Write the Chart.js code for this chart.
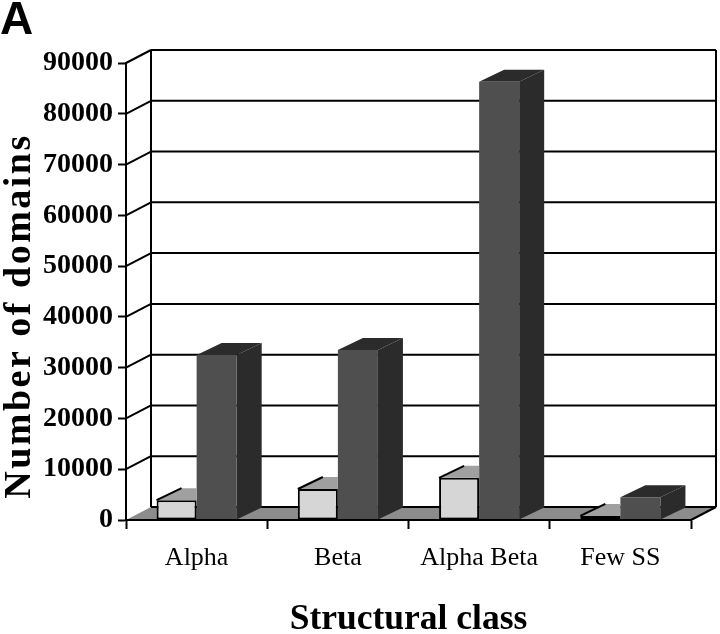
<!DOCTYPE html>
<html>
<head>
<meta charset="utf-8">
<title>Structural class</title>
<script src="https://cdn.jsdelivr.net/npm/chart.js@4"></script>
<style>
    html, body { margin: 0; padding: 0; background: #fff; }
    canvas { display: block; }
</style>
</head>
<body>
<canvas id="domains" width="720" height="634"></canvas>
<script>
// values
const categories = ['Alpha', 'Beta', 'Alpha Beta', 'Few SS'];
const lightValues = [3900, 6100, 8300, 800];
const darkValues = [32500, 33500, 86300, 4500];
const yMax = 90000;
const yStep = 10000;
const panelLabel = 'A';
const xTitle = 'Structural class';
const yTitle = 'Number of domains';

const DEPTH_X = 25;
const DEPTH_Y = 13;
const BAR_DEPTH_Y = 12;

function quad(ctx, pts, fill) {
    ctx.beginPath();
    ctx.moveTo(pts[0][0], pts[0][1]);
    for (let i = 1; i < pts.length; i++) ctx.lineTo(pts[i][0], pts[i][1]);
    ctx.closePath();
    ctx.fillStyle = fill;
    ctx.fill();
}

function line(ctx, x1, y1, x2, y2) {
    ctx.beginPath();
    ctx.moveTo(x1, y1);
    ctx.lineTo(x2, y2);
    ctx.stroke();
}

// back wall, side wall and floor of the fake 3D box
const wallPlugin = {
    id: 'walls',
    beforeDatasetsDraw(chart) {
        const ctx = chart.ctx;
        const { left, right, top, bottom } = chart.chartArea;
        const yScale = chart.scales.y;
        ctx.save();
        ctx.strokeStyle = '#000';
        ctx.lineWidth = 2;
        yScale.ticks.forEach(t => {
            const y = yScale.getPixelForValue(t.value);
            if (t.value > 0) {
                line(ctx, left, y, left + DEPTH_X, y - DEPTH_Y);
                line(ctx, left + DEPTH_X, y - DEPTH_Y, right + DEPTH_X, y - DEPTH_Y);
            }
        });
        line(ctx, left + DEPTH_X, top - DEPTH_Y, left + DEPTH_X, bottom - DEPTH_Y);
        line(ctx, right + DEPTH_X, top - DEPTH_Y, right + DEPTH_X, bottom - DEPTH_Y);
        quad(ctx, [[left, bottom], [right, bottom], [right + DEPTH_X, bottom - DEPTH_Y], [left + DEPTH_X, bottom - DEPTH_Y]], '#8c8c8c');
        line(ctx, left + DEPTH_X, bottom - DEPTH_Y, right + DEPTH_X, bottom - DEPTH_Y);
        line(ctx, right, bottom, right + DEPTH_X, bottom - DEPTH_Y);
        ctx.restore();
    },
    // Chart.js paints the last dataset first, so the dark bars are already
    // there when the light ones come: light top stops at the dark front face
    beforeDatasetDraw(chart, args) {
        const ctx = chart.ctx;
        const ds = chart.data.datasets[args.index];
        ctx.save();
        args.meta.data.forEach(bar => {
            const x0 = bar.x - bar.width / 2;
            const x1 = bar.x + bar.width / 2;
            if (ds.sideColor) {
                quad(ctx, [[x1, bar.y], [x1 + DEPTH_X, bar.y - BAR_DEPTH_Y], [x1 + DEPTH_X, bar.base - BAR_DEPTH_Y], [x1, bar.base]], ds.sideColor);
                quad(ctx, [[x0, bar.y], [x1, bar.y], [x1 + DEPTH_X, bar.y - BAR_DEPTH_Y], [x0 + DEPTH_X, bar.y - BAR_DEPTH_Y]], ds.topColor);
            } else {
                quad(ctx, [[x0, bar.y], [x1, bar.y], [x1, bar.y - BAR_DEPTH_Y], [x0 + DEPTH_X, bar.y - BAR_DEPTH_Y]], ds.topColor);
                ctx.strokeStyle = '#000';
                ctx.lineWidth = 2;
                line(ctx, x0, bar.y, x0 + DEPTH_X, bar.y - BAR_DEPTH_Y);
            }
        });
        ctx.restore();
    },
    afterDraw(chart) {
        const ctx = chart.ctx;
        const { left, right, bottom } = chart.chartArea;
        ctx.save();
        ctx.strokeStyle = '#000';
        ctx.lineWidth = 2;
        line(ctx, left, bottom, right, bottom);

        ctx.fillStyle = '#000';
        ctx.textAlign = 'left';
        ctx.textBaseline = 'alphabetic';
        ctx.font = 'bold 46px "Liberation Sans"';
        ctx.fillText(panelLabel, 0, 34);

        ctx.translate(30, 316);
        ctx.rotate(-Math.PI / 2);
        ctx.textAlign = 'center';
        ctx.font = 'bold 38px "Liberation Serif"';
        ctx.letterSpacing = '2.5px';
        ctx.fillText(yTitle, 0, 0);
        ctx.restore();
    }
};

const ctx = document.getElementById('domains').getContext('2d');
new Chart(ctx, {
    type: 'bar',
    data: {
        labels: categories,
        datasets: [
            { data: lightValues, backgroundColor: '#d6d6d6', borderColor: '#000', borderWidth: 2, borderSkipped: false, topColor: '#a0a0a0' },
            { data: darkValues, backgroundColor: '#4f4f4f', borderWidth: 0, sideColor: '#2b2b2b', topColor: '#2b2b2b' }
        ]
    },
    options: {
        responsive: false,
        animation: false,
        layout: { padding: { top: 63, right: 29, bottom: 0, left: 0 } },
        categoryPercentage: 0.567,
        barPercentage: 1,
        plugins: { legend: { display: false }, tooltip: { enabled: false } },
        scales: {
            x: {
                afterFit: s => { s.height = 114; },
                grid: { drawOnChartArea: false, tickLength: 9, tickColor: '#000', tickWidth: 2 },
                border: { color: '#000', width: 2 },
                ticks: { color: '#000', font: { family: '"Liberation Serif"', size: 26 }, padding: 14, maxRotation: 0, autoSkip: false },
                title: { display: true, text: xTitle, color: '#000', font: { family: '"Liberation Serif"', size: 35.5, weight: 'bold' }, padding: { top: 0, bottom: -7 } }
            },
            y: {
                min: 0,
                max: yMax,
                afterFit: s => { s.width = 126; },
                grid: { drawOnChartArea: false, tickLength: 8, tickColor: '#000', tickWidth: 2 },
                border: { color: '#000', width: 2 },
                ticks: { stepSize: yStep, color: '#000', font: { family: '"Liberation Serif"', size: 28, weight: 'bold' }, padding: 5, callback: v => String(v) }
            }
        }
    },
    plugins: [wallPlugin]
});
</script>
</body>
</html>
